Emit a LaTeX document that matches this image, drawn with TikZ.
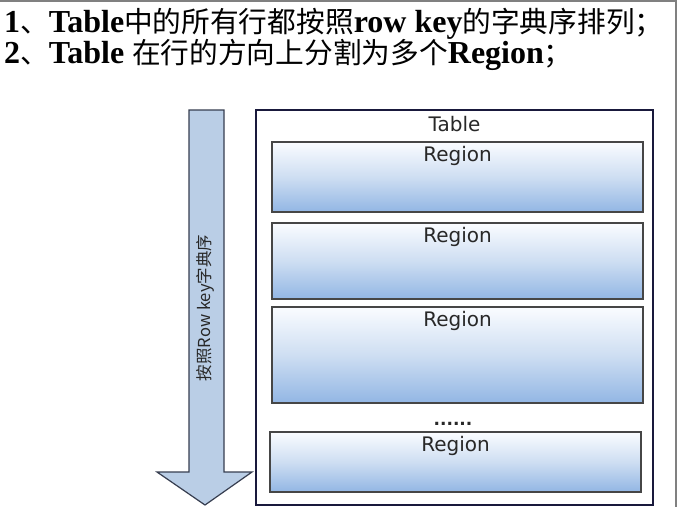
\documentclass[tikz,border=0pt]{standalone}
\usepackage{fontspec}
\setmainfont{Liberation Serif}
\newfontfamily\cjk{Noto Sans CJK SC}
\newfontfamily\dejavu{DejaVu Sans}
\newcommand{\lat}[1]{{\fontsize{32}{32}\selectfont\bfseries #1}}
\newcommand{\zh}[1]{{\fontsize{28.7}{32}\selectfont\cjk #1}}
\definecolor{framegray}{RGB}{128,128,128}
\definecolor{arrowfill}{RGB}{186,206,230}
\definecolor{arrowline}{RGB}{55,62,80}
\definecolor{regtop}{RGB}{250,252,255}
\definecolor{regmid}{RGB}{206,222,242}
\definecolor{regbot}{RGB}{146,182,228}
\definecolor{regline}{RGB}{70,70,70}
\definecolor{tabline}{RGB}{25,25,60}
\definecolor{labtext}{RGB}{40,40,40}
\begin{document}
\begin{tikzpicture}[
    x=1pt, y=-1pt,
    tablebox/.style={draw=tabline, line width=1.4pt, fill=white,
                     minimum width=397pt, minimum height=395pt, inner sep=0pt},
    region/.style={draw=regline, line width=1.3pt, top color=regtop,
                   bottom color=regbot, middle color=regmid,
                   minimum width=371pt, inner sep=0pt},
    boxlabel/.style={anchor=base, inner sep=0pt, text=labtext,
                     font=\dejavu\fontsize{20}{20}\selectfont},
    title/.style={anchor=base west, inner sep=0pt}
  ]
    \useasboundingbox (0,0) rectangle (677,507);
    \fill[white] (0,0) rectangle (677,507);
    \draw[framegray, line width=2pt] (0,1) -- (676,1) -- (676,507);

    % heading
    \node[title] (line1) at (4,32)
      {\lat{1}\zh{、}\lat{Table}\zh{中的所有行都按照}\lat{row key}\zh{的字典序排列；}};
    \node[title] (line2) at (4,63)
      {\lat{2}\zh{、}\lat{Table }\zh{在行的方向上分割为多个}\lat{Region}\zh{；}};

    % sort arrow
    \draw[arrowline, fill=arrowfill, line width=1.2pt, line join=miter]
      (189,110) -- (224,110) -- (224,472) -- (252,472) -- (205,505)
      -- (157,472) -- (189,472) -- cycle;
    \node[rotate=90, inner sep=0pt, text=labtext,
          font=\cjk\fontsize{16.5}{16.5}\selectfont] (order) at (205,308)
      {按照Row key字典序};

    % table and regions
    \node[tablebox] (table) at (454.5,307.5) {};
    \node[boxlabel] (tablelab) at (454.5,131) {Table};
    \node[region, minimum height=70pt] (reg1) at (457.5,177) {};
    \node[region, minimum height=76pt] (reg2) at (457.5,261) {};
    \node[region, minimum height=96pt] (reg3) at (457.5,355) {};
    \node[region, minimum height=60pt] (reg4) at (455.5,462) {};
    \foreach \r in {reg1,reg2,reg3,reg4}
      \node[boxlabel] at ([yshift=-20pt]\r.north) {Region};
    \node[boxlabel, font=\dejavu\bfseries\fontsize{17}{17}\selectfont] (dots) at (453,425) {......};
  \end{tikzpicture}
\end{document}
